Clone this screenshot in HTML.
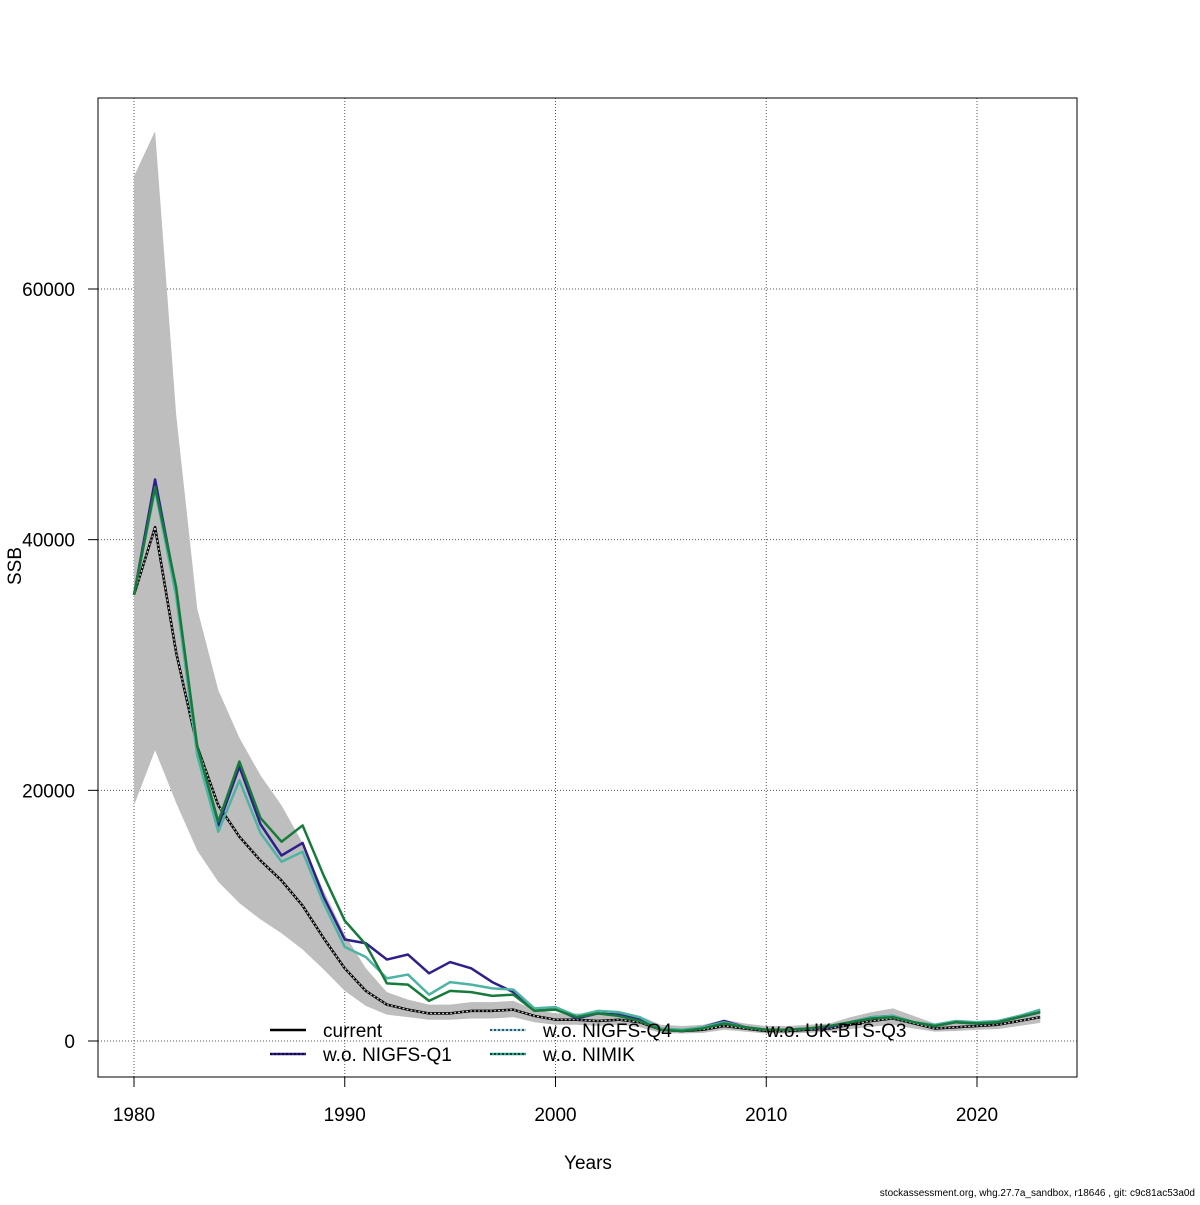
<!DOCTYPE html>
<html><head><meta charset="utf-8"><style>
body{margin:0;background:#fff;}
svg text{font-family:"Liberation Sans",Arial,sans-serif;fill:#000;}
</style></head><body>
<svg id="chart" width="1200" height="1200" xmlns="http://www.w3.org/2000/svg">
<g id="grid"></g>
<g id="band"></g>
<g id="lines"></g>
<rect x="98" y="98" width="979" height="979" fill="none" stroke="#000" stroke-width="1"/>
<g id="axes"></g>
<text x="21" y="566" font-size="19" text-anchor="middle" transform="rotate(-90 21 566)">SSB</text>
<text x="588" y="1169" font-size="19" text-anchor="middle">Years</text>
<text x="1195" y="1196" font-size="10" text-anchor="end">stockassessment.org, whg.27.7a_sandbox, r18646 , git: c9c81ac53a0d</text>
<g id="legend"></g>
</svg>
<script>
const years=[];for(let y=1980;y<=2023;y++)years.push(y);
const current=[35600,41000,31000,23500,18800,16300,14400,12800,10800,8200,5800,4000,2900,2500,2200,2200,2400,2400,2500,2000,1700,1700,1600,1700,1500,900,800,900,1200,1000,800,800,900,1000,1300,1600,1800,1400,1000,1100,1200,1300,1600,1900];
const upper=[69000,72600,50000,34500,28000,24200,21200,18800,15800,12000,8500,5800,3900,3300,2900,2900,3100,3100,3200,2500,2200,2200,2100,2200,2000,1300,1200,1300,1700,1400,1200,1200,1300,1400,1900,2300,2600,2000,1400,1500,1600,1700,2100,2500];
const lower=[18800,23200,19000,15200,12700,11000,9700,8600,7300,5700,4000,2800,2100,1900,1700,1700,1800,1800,1900,1500,1300,1300,1200,1300,1100,650,600,650,900,750,600,600,650,750,950,1150,1300,1000,750,800,900,950,1200,1450];
const nigfsQ1=[35600,44800,36000,23300,17200,21900,17300,14800,15800,11500,8100,7800,6500,6900,5400,6300,5800,4700,3900,2500,2600,1800,2200,2100,1700,900,800,1100,1600,1100,900,900,1000,1100,1500,1900,2000,1500,1200,1500,1400,1500,1900,2300];
const nimik=[35600,44200,36200,23500,17500,22300,17800,15900,17200,13200,9600,7700,4600,4500,3200,4000,3900,3600,3700,2400,2500,1900,2200,2000,1600,900,800,1000,1400,1100,900,900,1000,1200,1500,1800,1900,1500,1200,1500,1400,1500,1900,2300];
const ukbts=[35600,44000,35500,22800,16700,20800,16600,14300,15100,11000,7500,6700,5000,5300,3700,4700,4500,4200,4100,2600,2700,2000,2400,2300,1900,1000,900,1100,1500,1100,900,900,1000,1200,1500,1900,2000,1500,1300,1600,1500,1600,2000,2500];
const xTicks=[1980,1990,2000,2010,2020];
const yTicks=[0,20000,40000,60000];
const NS="http://www.w3.org/2000/svg";
const X=y=>134+(y-1980)*(977-134)/40;
const Y=v=>1041-v*(1041-289)/60000;
function mk(t,parent){const e=document.createElementNS(NS,t);document.getElementById(parent).appendChild(e);return e;}
xTicks.forEach(t=>{const l=mk('line','grid');


l.setAttribute('x1',X(t));l.setAttribute('x2',X(t));l.setAttribute('y1',98);l.setAttribute('y2',1077);l.setAttribute('stroke','#555');l.setAttribute('stroke-dasharray','1,2');});
yTicks.forEach(t=>{const l=mk('line','grid');


l.setAttribute('x1',98);l.setAttribute('x2',1077);l.setAttribute('y1',Y(t));l.setAttribute('y2',Y(t));l.setAttribute('stroke','#555');l.setAttribute('stroke-dasharray','1,2');});
let pts=years.map((y,i)=>X(y)+','+Y(upper[i]));
for(let i=years.length-1;i>=0;i--)pts.push(X(years[i])+','+Y(lower[i]));
const poly=mk('polygon','band');


poly.setAttribute('points',pts.join(' '));poly.setAttribute('fill','#bebebe');
function line(vals,color,w,name,dash){const p=mk('polyline','lines');


p.setAttribute('points',years.map((y,i)=>X(y)+','+Y(vals[i])).join(' '));
p.setAttribute('fill','none');p.setAttribute('stroke',color);p.setAttribute('stroke-width',w);p.setAttribute('stroke-linejoin','round');if(dash)p.setAttribute('stroke-dasharray',dash);}
line(current,'#000',2.5,'line-current');
line(current,'#cfcfcf',1.2,'line-nigfs-q4','2,2');
line(nigfsQ1,'#2e1f8a',2.5,'line-nigfs-q1');
line(ukbts,'#4db3a3',2.5,'line-uk-bts-q3');
line(nimik,'#167a3a',2.5,'line-nimik');
xTicks.forEach(t=>{const l=mk('line','axes');


l.setAttribute('x1',X(t));l.setAttribute('x2',X(t));l.setAttribute('y1',1077);l.setAttribute('y2',1087);l.setAttribute('stroke','#000');
const tx=mk('text','axes');


tx.setAttribute('x',X(t));tx.setAttribute('y',1121);tx.setAttribute('font-size','19');tx.setAttribute('text-anchor','middle');tx.textContent=t;});
yTicks.forEach(t=>{const l=mk('line','axes');


l.setAttribute('x1',88);l.setAttribute('x2',98);l.setAttribute('y1',Y(t));l.setAttribute('y2',Y(t));l.setAttribute('stroke','#000');
const tx=mk('text','axes');


tx.setAttribute('x',75);tx.setAttribute('y',Y(t)+7);tx.setAttribute('font-size','19');tx.setAttribute('text-anchor','end');tx.textContent=t;});
const leg=[['current','#000',270,1030,null],['w.o. NIGFS-Q1','#2e1f8a',270,1054,'#000'],['w.o. NIGFS-Q4','#9fd6e8',490,1030,'#000'],['w.o. NIMIK','#2aa58a',490,1054,'#000'],['w.o. UK-BTS-Q3',null,712,1030,null]];
leg.forEach(e=>{if(e[1]){const l=mk('line','legend');


l.setAttribute('x1',e[2]);l.setAttribute('x2',e[2]+36);l.setAttribute('y1',e[3]);l.setAttribute('y2',e[3]);l.setAttribute('stroke',e[1]);l.setAttribute('stroke-width',2.5);
if(e[4]){const d=mk('line','legend');


d.setAttribute('x1',e[2]);d.setAttribute('x2',e[2]+36);d.setAttribute('y1',e[3]);d.setAttribute('y2',e[3]);d.setAttribute('stroke',e[4]);d.setAttribute('stroke-width',1.2);d.setAttribute('stroke-dasharray','2,2');}}
const tx=mk('text','legend');


tx.setAttribute('x',e[2]+(e[1]?53:54));tx.setAttribute('y',e[3]+7);tx.setAttribute('font-size','19');tx.textContent=e[0];});
</script>
</body></html>
